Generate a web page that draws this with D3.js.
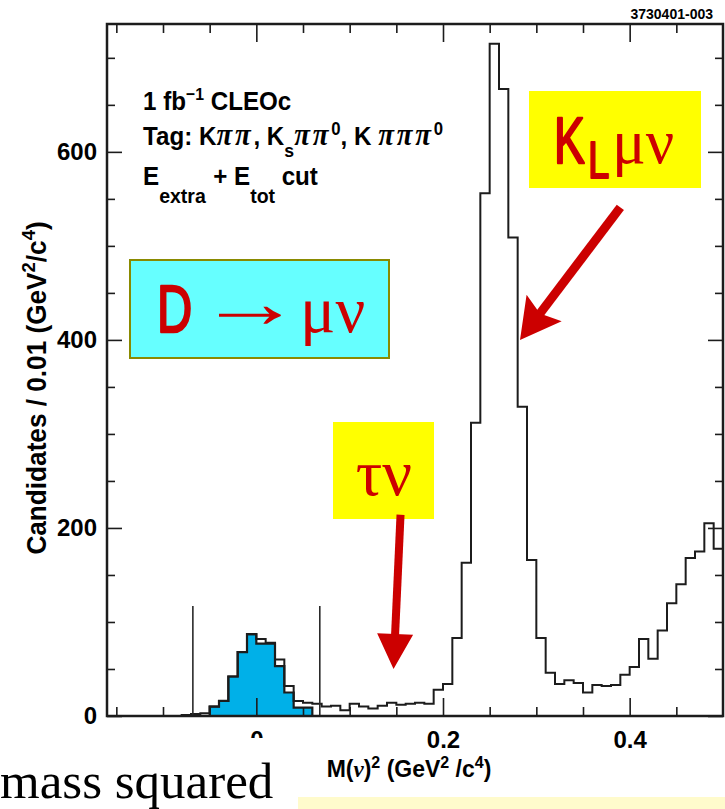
<!DOCTYPE html>
<html>
<head>
<meta charset="utf-8">
<script src="https://cdn.jsdelivr.net/npm/d3@7"></script>
<style>
  html, body { margin: 0; padding: 0; background: #ffffff; }
  svg { display: block; }
</style>
</head>
<body>
<script>
// Missing-mass-squared spectrum, D -> mu nu selection, 0.01 GeV^2/c^4 bins.
const binStart = -0.16;
const binWidth = 0.01;
// all candidates, bins starting at -0.16
const counts = [
  0, 0, 0, 0, 0, 0, 0, 0,           // -0.16 .. -0.09
  1, 2, 3,                          // -0.08 .. -0.06
  10, 16, 42, 68, 87,               // -0.05 .. -0.01
  82, 78, 60, 32, 16, 14, 13, 10, 11, 6,        // 0.00 .. 0.09
  13, 10, 8, 11, 14, 12, 13, 14, 13, 28,        // 0.10 .. 0.19
  34, 83, 163, 312, 556, 715, 667, 509, 329, 166, // 0.20 .. 0.29
  83, 46, 34, 38, 35, 25, 33, 32, 33, 44,       // 0.30 .. 0.39
  52, 82, 61, 91, 120, 140, 168, 175, 205, 178  // 0.40 .. 0.49
];
// signal-region candidates (filled), bins starting at -0.05
const signalStart = -0.05;
const signalCounts = [10, 16, 42, 68, 87, 77, 77, 53, 25, 9, 9];
// signal window edges
const cutEdges = [-0.068, 0.068];
const cutTop = 117;

const xMajorTicks = [0, 0.2, 0.4];
const xTickLabels = ["0", "0.2", "0.4"];
const xMinorTicks = [-0.15, -0.1, -0.05, 0.05, 0.1, 0.15, 0.25, 0.3, 0.35, 0.45];
const yMajorTicks = [0, 200, 400, 600];
const yTickLabels = ["0", "200", "400", "600"];
const yMinorTicks = [50, 100, 150, 250, 300, 350, 450, 500, 550, 650, 700];

// annotation arrows: [tail, tip] in data units
const klArrow = [[0.39, 541], [0.2825, 400]];
const tauArrow = [[0.1545, 214], [0.147, 50]];

const W = 725, H = 809;
const SANS = "'Liberation Sans', Arial, Helvetica, sans-serif";
const SERIF = "'Liberation Serif', 'Times New Roman', serif";
const RED = "#cc0000";
const INK = "#1c1c1c";

const svg = d3.select("body").append("svg")
  .attr("width", W).attr("height", H)
  .attr("viewBox", `0 0 ${W} ${H}`)
  .style("font-family", SANS);

const x = d3.scaleLinear().domain([-0.16, 0.5]).range([107, 723]);
const y = d3.scaleLinear().domain([0, 736]).range([716, 24]);

// ---- histograms ----
function stepPoints(start, values) {
  const pts = [[x(start), y(0)]];
  values.forEach((c, i) => pts.push([x(start + i * binWidth), y(c)]));
  const end = start + values.length * binWidth;
  pts.push([x(end), y(values[values.length - 1])]);
  return pts;
}
const step = d3.line().curve(d3.curveStepAfter);

const sigPts = stepPoints(signalStart, signalCounts);
sigPts.push([x(signalStart + signalCounts.length * binWidth), y(0)]);
svg.append("path")
  .attr("d", step(sigPts) + "Z")
  .attr("fill", "#00b0e8")
  .attr("stroke", INK)
  .attr("stroke-width", 2.2)
  .attr("stroke-linejoin", "miter");

svg.append("path")
  .attr("d", step(stepPoints(binStart, counts)))
  .attr("fill", "none")
  .attr("stroke", INK)
  .attr("stroke-width", 2)
  .attr("stroke-linejoin", "miter");

// signal window lines
svg.selectAll("line.cut").data(cutEdges).enter().append("line")
  .attr("class", "cut")
  .attr("x1", d => x(d)).attr("x2", d => x(d))
  .attr("y1", y(0)).attr("y2", y(cutTop))
  .attr("stroke", "#2a2a2a").attr("stroke-width", 1.6);

// ---- axes: ticks drawn inward on all four sides ----
function styleAxis(g) {
  g.select(".domain").remove();
  g.selectAll(".tick line").attr("stroke", INK).attr("stroke-width", 1.6);
  g.selectAll(".tick text").attr("fill", "#000")
    .style("font-family", SANS).style("font-weight", "bold").style("font-size", "24px");
}
const fmtX = d => xTickLabels[xMajorTicks.indexOf(d)];
const fmtY = d => yTickLabels[yMajorTicks.indexOf(d)];

// bottom
svg.append("g").attr("transform", `translate(0,${y(0)})`)
  .call(d3.axisBottom(x).tickValues(xMajorTicks).tickSize(-18).tickPadding(15).tickFormat(fmtX))
  .call(styleAxis);
svg.append("g").attr("transform", `translate(0,${y(0)})`)
  .call(d3.axisBottom(x).tickValues(xMinorTicks).tickSize(-9).tickFormat(""))
  .call(styleAxis);
// top
svg.append("g").attr("transform", `translate(0,${y.range()[1]})`)
  .call(d3.axisTop(x).tickValues(xMajorTicks).tickSize(-18).tickFormat(""))
  .call(styleAxis);
svg.append("g").attr("transform", `translate(0,${y.range()[1]})`)
  .call(d3.axisTop(x).tickValues(xMinorTicks).tickSize(-9).tickFormat(""))
  .call(styleAxis);
// left
svg.append("g").attr("transform", `translate(${x(-0.16)},0)`)
  .call(d3.axisLeft(y).tickValues(yMajorTicks).tickSize(-15).tickPadding(10).tickFormat(fmtY))
  .call(styleAxis);
svg.append("g").attr("transform", `translate(${x(-0.16)},0)`)
  .call(d3.axisLeft(y).tickValues(yMinorTicks).tickSize(-8).tickFormat(""))
  .call(styleAxis);
// right
svg.append("g").attr("transform", `translate(${x(0.5)},0)`)
  .call(d3.axisRight(y).tickValues(yMajorTicks).tickSize(-15).tickFormat(""))
  .call(styleAxis);
svg.append("g").attr("transform", `translate(${x(0.5)},0)`)
  .call(d3.axisRight(y).tickValues(yMinorTicks).tickSize(-8).tickFormat(""))
  .call(styleAxis);

// frame
svg.append("rect")
  .attr("x", x(-0.16)).attr("y", y(736))
  .attr("width", x(0.5) - x(-0.16)).attr("height", y(0) - y(736))
  .attr("fill", "none").attr("stroke", INK).attr("stroke-width", 2.5);

// ---- rich text helper ----
function richText(parent, px, py, size, parts, opts = {}) {
  const g = parent.append("g")
    .attr("transform", `translate(${px},${py}) ${opts.rotate ? `rotate(${opts.rotate})` : ""} scale(${opts.sx || 1},1)`);
  const t = g.append("text")
    .attr("x", 0).attr("y", 0)
    .attr("text-anchor", opts.anchor || "start")
    .attr("fill", opts.fill || "#000")
    .style("font-family", opts.family || SANS)
    .style("font-weight", opts.weight || "bold")
    .style("font-size", size + "px")
    .style("white-space", "pre");
  parts.forEach(p => {
    const s = t.append("tspan").text(p.t);
    if (p.dy) s.attr("dy", p.dy);
    if (p.dx) s.attr("dx", p.dx);
    if (p.size) s.style("font-size", p.size + "px");
    if (p.italic) s.style("font-style", "italic");
    if (p.family) s.style("font-family", p.family);
    if (p.ls) s.style("letter-spacing", p.ls + "px");
  });
  return t;
}

// info block
richText(svg, 143, 110, 26, [
  { t: "1 fb" }, { t: "\u22121", size: 17, dy: -10 }, { t: " CLEOc", size: 26, dy: 10 }
], { sx: 0.93 });
richText(svg, 143, 145, 26, [
  { t: "Tag: K" }, { t: "\u03c0\u03c0", italic: true, family: SERIF, size: 31, ls: 3 },
  { t: ", K", size: 26 }, { t: "s", size: 19, dy: 12 },
  { t: "\u03c0\u03c0", italic: true, family: SERIF, size: 31, dy: -12, ls: 3 },
  { t: "0", size: 18, dy: -10 }, { t: ", K ", size: 26, dy: 10 },
  { t: "\u03c0\u03c0\u03c0", italic: true, family: SERIF, size: 31, ls: 3 },
  { t: "0", size: 18, dy: -10 }
], { sx: 0.93 });
richText(svg, 143, 185, 26, [
  { t: "E" }, { t: "extra", size: 21, dy: 18 }, { t: "+ E", size: 26, dy: -18, dx: 8 },
  { t: "tot", size: 21, dy: 18 }, { t: "cut", size: 26, dy: -18, dx: 7 }
], { sx: 0.93 });

// axis titles
richText(svg, 46, 388, 27, [
  { t: "Candidates / 0.01 (GeV" }, { t: "2", size: 19, dy: -11 },
  { t: "/c", size: 27, dy: 11 }, { t: "4", size: 19, dy: -11 }, { t: ")", size: 27, dy: 11 }
], { rotate: -90, anchor: "middle", sx: 0.97 });
richText(svg, 409, 777, 23, [
  { t: "M(" }, { t: "\u03bd", italic: true, family: SERIF }, { t: ")" },
  { t: "2", size: 16, dy: -9 }, { t: " (GeV", size: 23, dy: 9 },
  { t: "2", size: 16, dy: -9 }, { t: " /c", size: 23, dy: 9 },
  { t: "4", size: 16, dy: -9 }, { t: ")", size: 23, dy: 9 }
], { anchor: "middle" });

svg.append("text").attr("x", 713).attr("y", 19).attr("text-anchor", "end")
  .style("font-weight", "bold").style("font-size", "14px").text("3730401-003");

// ---- annotation boxes ----
svg.append("rect").attr("x", 130).attr("y", 260).attr("width", 259).attr("height", 98)
  .attr("fill", "#66ffff").attr("stroke", "#8a8a00").attr("stroke-width", 2);
svg.append("rect").attr("x", 529).attr("y", 91).attr("width", 172).attr("height", 97)
  .attr("fill", "#ffff00");
svg.append("rect").attr("x", 333).attr("y", 422).attr("width", 101).attr("height", 97)
  .attr("fill", "#ffff00");

function markerText(px, py, size, str, sx, family, sw) {
  svg.append("g").attr("transform", `translate(${px},${py}) scale(${sx},1)`)
    .append("text").attr("x", 0).attr("y", 0)
    .attr("fill", RED).attr("stroke", RED).attr("stroke-width", sw)
    .attr("stroke-linejoin", "round")
    .style("font-family", family).style("font-size", size + "px")
    .text(str);
}
// D -> mu nu
markerText(157, 332, 66, "D", 0.74, SANS, 2.4);
markerText(198, 327, 72, "\u2192", 1.45, SERIF, 0);
svg.append("text").attr("x", 300).attr("y", 332).attr("fill", RED)
  .style("font-family", SERIF).style("font-size", "66px").text("\u03bc\u03bd");
// K_L mu nu
markerText(554, 163, 64, "K", 0.72, SANS, 2.4);
markerText(588, 178, 52, "L", 0.74, SANS, 2);
svg.append("text").attr("x", 612).attr("y", 163).attr("fill", RED)
  .style("font-family", SERIF).style("font-size", "63px").text("\u03bc\u03bd");
// tau nu
svg.append("text").attr("x", 384).attr("y", 495).attr("text-anchor", "middle").attr("fill", RED)
  .style("font-family", SERIF).style("font-size", "66px").text("\u03c4\u03bd");

// ---- arrows ----
function drawArrow(pair, shaftW, headLen, headHalf, notch) {
  const [t0, t1] = pair;
  const a = [x(t0[0]), y(t0[1])], b = [x(t1[0]), y(t1[1])];
  const dx = b[0] - a[0], dy = b[1] - a[1], L = Math.hypot(dx, dy);
  const ux = dx / L, uy = dy / L, nx = -uy, ny = ux;
  const bx = b[0] - ux * headLen, by = b[1] - uy * headLen;
  const mx = bx + ux * notch, my = by + uy * notch;
  svg.append("line").attr("x1", a[0]).attr("y1", a[1]).attr("x2", mx + ux).attr("y2", my + uy)
    .attr("stroke", RED).attr("stroke-width", shaftW);
  svg.append("path")
    .attr("d", `M${b[0]},${b[1]} L${bx + nx * headHalf},${by + ny * headHalf} L${mx},${my} L${bx - nx * headHalf},${by - ny * headHalf} Z`)
    .attr("fill", RED);
}
drawArrow(klArrow, 9, 40, 22, 7);
drawArrow(tauArrow, 8, 35, 18, 0);

// ---- slide overlays at the bottom ----
svg.append("rect").attr("x", 0).attr("y", 738).attr("width", 296).attr("height", H - 738)
  .attr("fill", "#ffffff");
svg.append("text").attr("x", 0).attr("y", 798)
  .style("font-family", SERIF).style("font-size", "51px").attr("fill", "#000")
  .text("mass squared");
svg.append("rect").attr("x", 298).attr("y", 797).attr("width", W - 298).attr("height", H - 797)
  .attr("fill", "#fffbcc");
</script>
</body>
</html>
